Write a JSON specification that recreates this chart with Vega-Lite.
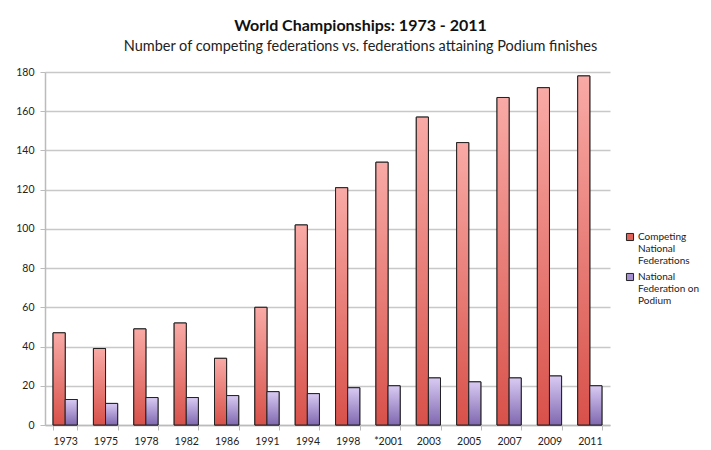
{
  "$schema": "https://vega.github.io/schema/vega-lite/v6.json",
  "autosize": "none",
  "width": 565,
  "height": 353,
  "padding": {"left": 45, "top": 72, "right": 101, "bottom": 25},
  "background": "white",
  "config": {
    "font": "Lato",
    "view": {"stroke": null},
    "axis": {"labelFont": "Lato", "labelFontSize": 10.5, "labelColor": "#222"}
  },
  "title": {
    "text": "World Championships:  1973 - 2011",
    "subtitle": "Number of competing federations vs. federations attaining Podium finishes",
    "anchor": "middle",
    "dx": 33,
    "offset": 14,
    "fontSize": 16,
    "fontWeight": "bold",
    "color": "#111",
    "subtitleFontSize": 14.5,
    "subtitleColor": "#222",
    "subtitlePadding": 6
  },
  "data": {
    "values": [
      {"year": "1973", "series": "Competing National Federations", "count": 47},
      {"year": "1973", "series": "National Federation on Podium", "count": 13},
      {"year": "1975", "series": "Competing National Federations", "count": 39},
      {"year": "1975", "series": "National Federation on Podium", "count": 11},
      {"year": "1978", "series": "Competing National Federations", "count": 49},
      {"year": "1978", "series": "National Federation on Podium", "count": 14},
      {"year": "1982", "series": "Competing National Federations", "count": 52},
      {"year": "1982", "series": "National Federation on Podium", "count": 14},
      {"year": "1986", "series": "Competing National Federations", "count": 34},
      {"year": "1986", "series": "National Federation on Podium", "count": 15},
      {"year": "1991", "series": "Competing National Federations", "count": 60},
      {"year": "1991", "series": "National Federation on Podium", "count": 17},
      {"year": "1994", "series": "Competing National Federations", "count": 102},
      {"year": "1994", "series": "National Federation on Podium", "count": 16},
      {"year": "1998", "series": "Competing National Federations", "count": 121},
      {"year": "1998", "series": "National Federation on Podium", "count": 19},
      {"year": "*2001", "series": "Competing National Federations", "count": 134},
      {"year": "*2001", "series": "National Federation on Podium", "count": 20},
      {"year": "2003", "series": "Competing National Federations", "count": 157},
      {"year": "2003", "series": "National Federation on Podium", "count": 24},
      {"year": "2005", "series": "Competing National Federations", "count": 144},
      {"year": "2005", "series": "National Federation on Podium", "count": 22},
      {"year": "2007", "series": "Competing National Federations", "count": 167},
      {"year": "2007", "series": "National Federation on Podium", "count": 24},
      {"year": "2009", "series": "Competing National Federations", "count": 172},
      {"year": "2009", "series": "National Federation on Podium", "count": 25},
      {"year": "2011", "series": "Competing National Federations", "count": 178},
      {"year": "2011", "series": "National Federation on Podium", "count": 20}
    ]
  },
  "encoding": {
    "x": {
      "field": "year",
      "type": "nominal",
      "sort": null,
      "title": null,
      "scale": {"paddingInner": 0.4, "paddingOuter": 0.2},
      "axis": {
        "labelAngle": 0,
        "tickBand": "extent",
        "domainColor": "#bbb",
        "tickColor": "#bbb",
        "domainWidth": 1.5,
        "tickSize": 5,
        "labelPadding": 6
      }
    },
    "xOffset": {
      "field": "series",
      "type": "nominal",
      "scale": {"domain": ["Competing National Federations", "National Federation on Podium"]}
    },
    "y": {
      "field": "count",
      "type": "quantitative",
      "title": null,
      "scale": {"domain": [0, 180]},
      "axis": {
        "values": [0, 20, 40, 60, 80, 100, 120, 140, 160, 180],
        "gridColor": "#c8c8c8",
        "gridWidth": 1.5,
        "domainColor": "#bbb",
        "domainWidth": 1.5,
        "tickColor": "#bbb",
        "tickSize": 5,
        "labelPadding": 6
      }
    }
  },
  "layer": [
    {
      "mark": {"type": "bar", "stroke": "#222", "strokeWidth": 1},
      "encoding": {
        "fill": {
          "field": "series",
          "type": "nominal",
          "title": null,
          "scale": {
            "domain": ["Competing National Federations", "National Federation on Podium"],
            "range": ["#e0635b", "#a48fd0"]
          },
          "legend": {
            "orient": "none",
            "legendX": 580,
            "legendY": 160,
            "symbolType": "square",
            "symbolSize": 50,
            "symbolStrokeColor": "#222",
            "symbolStrokeWidth": 1,
            "labelFontSize": 10,
            "labelColor": "#222",
            "labelLimit": 0,
            "labelOffset": 3,
            "rowPadding": 5,
            "labelExpr": "datum.label == 'Competing National Federations' ? ['Competing', 'National', 'Federations'] : ['National', 'Federation on', 'Podium']"
          }
        }
      }
    },
    {
      "transform": [{"filter": "datum.series == 'Competing National Federations'"}],
      "mark": {
        "type": "bar",
        "stroke": "#222",
        "strokeWidth": 1,
        "fill": {"gradient": "linear", "x1": 0, "y1": 0, "x2": 0, "y2": 1, "stops": [{"offset": 0, "color": "#f9aaa6"}, {"offset": 1, "color": "#d8514a"}]}
      }
    },
    {
      "transform": [{"filter": "datum.series == 'National Federation on Podium'"}],
      "mark": {
        "type": "bar",
        "stroke": "#222",
        "strokeWidth": 1,
        "fill": {"gradient": "linear", "x1": 0, "y1": 0, "x2": 0, "y2": 1, "stops": [{"offset": 0, "color": "#d8caf3"}, {"offset": 1, "color": "#8068b0"}]}
      }
    }
  ]
}
